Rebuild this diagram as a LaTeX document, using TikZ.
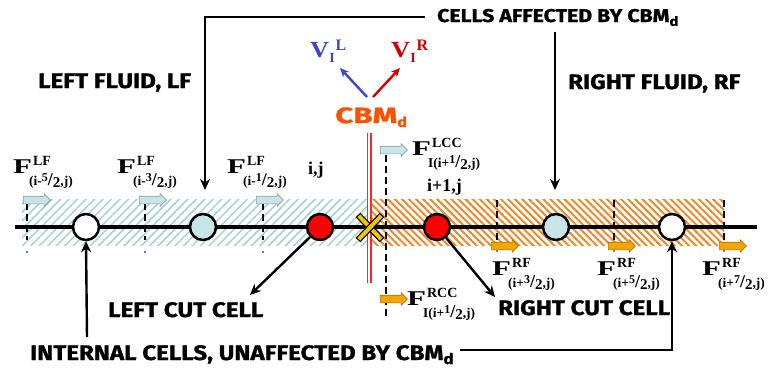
\documentclass[tikz,border=0pt]{standalone}
\usepackage{fontspec}
\setmainfont{Liberation Serif}
\newfontfamily\labfont{Fira Sans}[FakeStretch=1.15, FakeBold=1.2]
\usetikzlibrary{arrows.meta,shapes.arrows,patterns.meta}
\definecolor{lblue}{RGB}{200,228,230}
\definecolor{hatchblue}{RGB}{165,208,212}
\definecolor{hatchorange}{RGB}{242,135,40}
\definecolor{arrorange}{RGB}{245,165,0}
\definecolor{cbmcol}{RGB}{255,80,0}
\definecolor{vblue}{RGB}{60,70,200}
\definecolor{vred}{RGB}{210,0,0}
\definecolor{xyellow}{RGB}{235,200,0}
\definecolor{ifred}{RGB}{255,40,40}
\newcommand\sfr[2]{\raisebox{3.5pt}{\fontsize{12}{12}\selectfont #1}{\fontsize{18}{18}\selectfont /}\raisebox{-2pt}{\fontsize{15}{15}\selectfont #2}}
\newcommand\FF[2]{\scalebox{1.55}[1.05]{\fontsize{20}{20}\selectfont F}\kern1pt\raisebox{8pt}{\rlap{\fontsize{14}{14}\selectfont #1}}\kern-4pt\raisebox{-12pt}{\fontsize{13.5}{13.5}\selectfont #2}}
\newcommand\VV[2]{\textcolor{#1}{\scalebox{1.2}[1.05]{\fontsize{22}{22}\selectfont V}\raisebox{-5pt}{\fontsize{14}{14}\selectfont I}\kern1pt\raisebox{7pt}{\fontsize{16}{16}\selectfont #2}}}
\tikzset{
  lab/.style={font=\labfont\bfseries\fontsize{21}{21}\selectfont, inner sep=0pt, anchor=base west},
  flab/.style={font=\bfseries, inner sep=0pt, anchor=base west},
  conn/.style={line width=2.4pt, -{Stealth[length=11pt,width=10pt]}},
  cell/.style={circle, draw, line width=2.5pt, minimum size=26pt, inner sep=0pt},
  tick/.style={line width=1.6pt, dash pattern=on 7pt off 4pt},
  barrow/.style={single arrow, draw=#1!70!black, line width=0.6pt, fill=#1, minimum height=27pt, inner sep=3.5pt, single arrow head extend=2.5pt},
}
\begin{document}
\begin{tikzpicture}[x=1pt,y=-1pt]
\useasboundingbox (0,0) rectangle (771,370);
% hatched bands
\path[pattern={Lines[angle=45,distance=6pt,line width=1.5pt]}, pattern color=hatchblue] (22,199) rectangle (369,245);
\path[pattern={Lines[angle=-45,distance=5pt,line width=2pt]}, pattern color=hatchorange] (369,199) rectangle (724,245);
% dashed ticks
\foreach \x in {27,145,263} {\draw[tick] (\x,203) -- (\x,240); \fill (\x,252) circle (0.8pt);}
\foreach \x in {497,614,724} {\draw[tick] (\x,200) -- (\x,240); \fill (\x,251) circle (0.8pt);}
\draw[tick] (386,155) -- (386,318);
% main line
\draw[line width=4pt] (15,227) -- (757,227);
% interface
\draw[ifred, line width=5pt] (369,133) -- (369,283);
\draw[white, line width=1.2pt] (369,133) -- (369,283);
% cross
\draw[line width=6.5pt] (358,215) -- (382,240);
\draw[xyellow, line width=4pt] (358.8,215.8) -- (381.2,239.2);
\draw[line width=6.5pt] (358,240) -- (382,215);
\draw[xyellow, line width=4pt] (358.8,239.2) -- (381.2,215.8);
% cells
\node[cell, fill=white] (w1) at (86,227) {};
\node[cell, fill=lblue] (b1) at (203,227) {};
\node[cell, fill=red] (r1) at (320,227) {};
\node[cell, fill=red] (r2) at (437,227) {};
\node[cell, fill=lblue] (b2) at (556,227) {};
\node[cell, fill=white] (w2) at (672,227) {};
% block arrows
\node[barrow=lblue] (a1) at (35,200) {};
\node[barrow=lblue] (a2) at (151,200) {};
\node[barrow=lblue] (a3) at (268,200) {};
\node[barrow=lblue] (a4) at (392,150) {};
\node[barrow=arrorange] (a5) at (503,246) {};
\node[barrow=arrorange] (a6) at (620,246) {};
\node[barrow=arrorange] (a7) at (731,246) {};
\node[barrow=arrorange] (a8) at (392,299) {};
% flux labels
\node[flab] (f1) at (13,173) {\FF{LF}{(i-\sfr{5}{2},j)}};
\node[flab] (f2) at (117,173) {\FF{LF}{(i-\sfr{3}{2},j)}};
\node[flab] (f3) at (227,173) {\FF{LF}{(i-\sfr{1}{2},j)}};
\node[flab] (f4) at (412,155) {\FF{LCC}{I(i+\sfr{1}{2},j)}};
\node[flab] (f5) at (407,305) {\FF{RCC}{I(i+\sfr{1}{2},j)}};
\node[flab] (f6) at (492,275) {\FF{RF}{(i+\sfr{3}{2},j)}};
\node[flab] (f7) at (597,275) {\FF{RF}{(i+\sfr{5}{2},j)}};
\node[flab] (f8) at (702,275) {\FF{RF}{(i+\sfr{7}{2},j)}};
% cell indices
\node[flab, font=\bfseries\fontsize{18}{18}\selectfont] (ij) at (308,174) {i,j};
\node[flab, font=\bfseries\fontsize{18}{18}\selectfont] (ij1) at (427,191) {i+1,j};
% CBM and velocities
\node[lab, text=cbmcol] (cbm) at (335,123) {\scalebox{1.3}[1.05]{CBM}\raisebox{-4pt}{\fontsize{14}{14}\selectfont d}};
\node[flab] (vl) at (310,57) {\VV{vblue}{L}};
\node[flab] (vr) at (391,57) {\VV{vred}{R}};
\coordinate (vl0) at (367,97); \coordinate (vl1) at (340,68);
\coordinate (vr0) at (373,97); \coordinate (vr1) at (400,68);
\draw[vblue, line width=2.4pt, -{Stealth[length=9pt,width=8pt]}] (vl0) -- (vl1);
\draw[vred, line width=2.4pt, -{Stealth[length=9pt,width=8pt]}] (vr0) -- (vr1);
% text labels
\node[lab] (lf) at (38,88) {LEFT FLUID, LF};
\node[lab] (rf) at (568,89) {RIGHT FLUID, RF};
\node[lab, font=\labfont\bfseries\fontsize{18.5}{18.5}\selectfont] (ca) at (437,22) {CELLS AFFECTED BY CBM\textsubscript{d}};
\node[lab] (lcc) at (108,317) {LEFT CUT CELL};
\node[lab] (rcc) at (498,315) {RIGHT CUT CELL};
\node[lab] (int) at (30,360) {INTERNAL CELLS, UNAFFECTED BY CBM\textsubscript{d}};
% connectors
\coordinate (caL0) at (425,17); \coordinate (caL) at (205,190);
\draw[conn] (caL0) -| (caL);
\coordinate (caR0) at (555,32); \coordinate (caR) at (555,190);
\draw[conn] (caR0) -- (caR);
\coordinate (intL) at (87,337);
\draw[conn] (intL) -- (w1.south);
\coordinate (intR) at (460,350);
\draw[conn] (intR) -| (w2.south);
\coordinate (lcct) at (250,295);
\draw[conn] (r1.225) -- (lcct);
\coordinate (rcct) at (495,297);
\draw[conn] (r2.-50) -- (rcct);
\end{tikzpicture}
\end{document}
